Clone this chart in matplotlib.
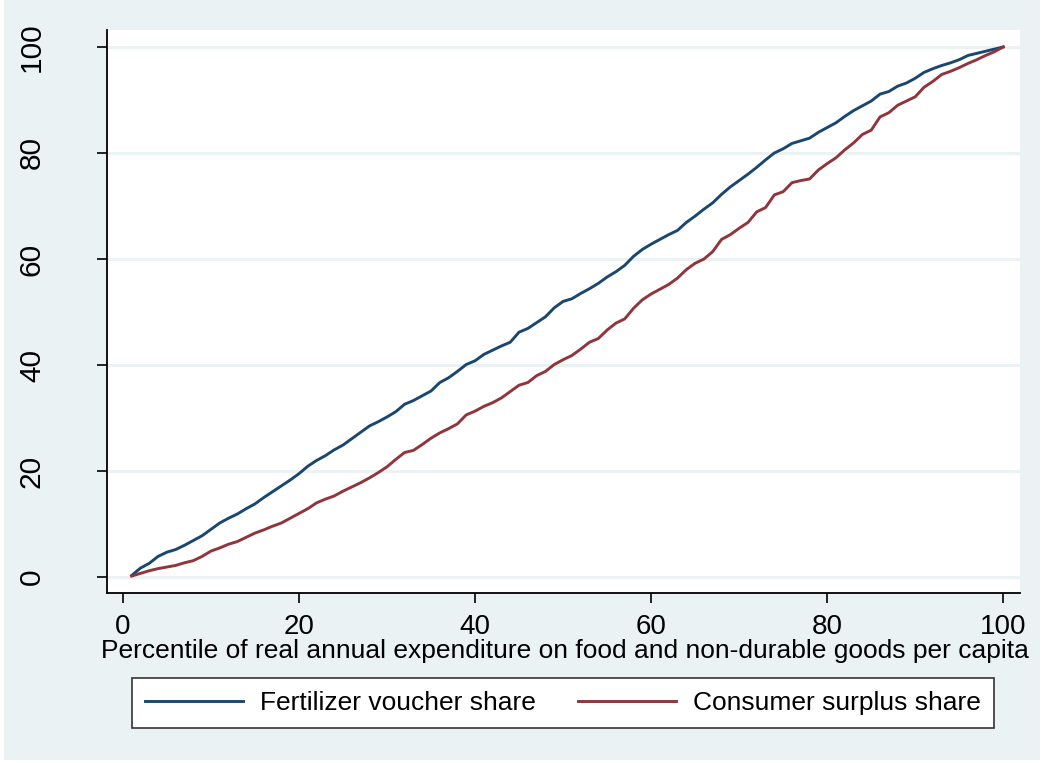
import numpy as np
import matplotlib.pyplot as plt
from matplotlib.patches import Rectangle
from matplotlib import font_manager

plt.rcParams['font.family'] = ['Liberation Sans', 'DejaVu Sans']

# percentiles 1..100 and cumulative shares (%)
percentile = np.arange(1, 101)
voucher_share = [
    0.3, 1.7, 2.6, 3.9, 4.7, 5.2, 6.0, 6.9, 7.8, 9.0,
    10.2, 11.1, 11.9, 12.9, 13.8, 15.0, 16.1, 17.2, 18.3, 19.5,
    20.9, 22.0, 22.9, 24.0, 24.9, 26.1, 27.3, 28.5, 29.3, 30.2,
    31.2, 32.6, 33.3, 34.2, 35.1, 36.7, 37.6, 38.8, 40.1, 40.8,
    42.0, 42.8, 43.6, 44.3, 46.2, 46.9, 48.0, 49.1, 50.8, 52.0,
    52.5, 53.5, 54.4, 55.4, 56.6, 57.6, 58.8, 60.5, 61.8, 62.8,
    63.7, 64.6, 65.4, 66.9, 68.1, 69.4, 70.6, 72.2, 73.6, 74.8,
    76.0, 77.3, 78.7, 80.0, 80.8, 81.8, 82.3, 82.8, 83.9, 84.8,
    85.7, 86.9, 88.0, 88.9, 89.8, 91.1, 91.6, 92.6, 93.2, 94.1,
    95.2, 95.9, 96.5, 97.0, 97.6, 98.4, 98.8, 99.2, 99.6, 100.0,
]
surplus_share = [
    0.2, 0.7, 1.2, 1.6, 1.9, 2.2, 2.7, 3.1, 3.9, 4.9,
    5.5, 6.2, 6.7, 7.5, 8.3, 8.9, 9.6, 10.2, 11.1, 12.0,
    12.9, 14.0, 14.7, 15.3, 16.2, 17.0, 17.8, 18.7, 19.7, 20.8,
    22.2, 23.5, 23.9, 25.0, 26.2, 27.2, 28.0, 28.9, 30.6, 31.3,
    32.2, 32.9, 33.8, 35.0, 36.2, 36.7, 38.0, 38.8, 40.1, 41.0,
    41.8, 43.0, 44.3, 45.0, 46.6, 47.9, 48.7, 50.7, 52.3, 53.4,
    54.3, 55.2, 56.4, 58.0, 59.2, 60.0, 61.4, 63.7, 64.6, 65.8,
    66.9, 68.9, 69.7, 72.1, 72.7, 74.4, 74.8, 75.1, 76.8, 78.0,
    79.1, 80.6, 81.9, 83.5, 84.3, 86.8, 87.6, 89.0, 89.8, 90.6,
    92.4, 93.5, 94.8, 95.4, 96.1, 96.9, 97.6, 98.4, 99.1, 100.0,
]

# narrow face for the x tick numbers, if it is there
names = {f.name for f in font_manager.fontManager.ttflist}
narrow = 'Liberation Sans Narrow' if 'Liberation Sans Narrow' in names else 'Liberation Sans'

W, H = 1047, 763
bg = '#EAF2F3'
fig = plt.figure(figsize=(W / 100, H / 100), dpi=100, facecolor='white')
fig.patches.append(Rectangle((4 / W, 3 / H), 1036 / W, 760 / H,
                             transform=fig.transFigure, facecolor=bg,
                             edgecolor='none', zorder=-10))

ax = fig.add_axes([107 / W, (H - 593) / H, (1020 - 107) / W, (593 - 30) / H])
ax.set_facecolor('white')

ax.plot(percentile, voucher_share, color='#1A476F', lw=2.1,
        label='Fertilizer voucher share', zorder=3)
ax.plot(percentile, surplus_share, color='#90353B', lw=2.1,
        label='Consumer surplus share', zorder=3)

ax.set_xlim(-1.8, 101.9)
ax.set_ylim(-3.0, 103.2)
ax.set_xticks([0, 20, 40, 60, 80, 100])
ax.set_yticks([0, 20, 40, 60, 80, 100])
ax.yaxis.grid(True, color=bg, lw=2.2, zorder=1)
ax.set_axisbelow(True)

for s in ['top', 'right']:
    ax.spines[s].set_visible(False)
for s in ['left', 'bottom']:
    ax.spines[s].set_linewidth(1.3)
    ax.spines[s].set_color('black')

ax.tick_params(axis='both', direction='out', length=7, width=1.2,
               colors='black')
ax.tick_params(axis='x', pad=8, labelsize=20)
ax.tick_params(axis='y', pad=37, labelsize=21.5)
plt.setp(ax.get_xticklabels(), family=[narrow, 'Liberation Sans'])
plt.setp(ax.get_yticklabels(), rotation=90, va='center')

ax.set_xlabel('Percentile of real annual expenditure on food and '
              'non-durable goods per capita', fontsize=19, va='baseline')
ax.xaxis.set_label_coords(0.5016, -(658 - 593) / 563)

leg = fig.legend(loc='center', bbox_to_anchor=(563 / W, 1 - 703 / H), ncol=2,
                 fontsize=19, frameon=True, fancybox=False, edgecolor='#333333',
                 framealpha=1, handlelength=3.7, handletextpad=0.65,
                 columnspacing=1.6, borderpad=0.5)
leg.get_frame().set_linewidth(1.2)

fig.savefig('out.png', dpi=100, facecolor=fig.get_facecolor())
